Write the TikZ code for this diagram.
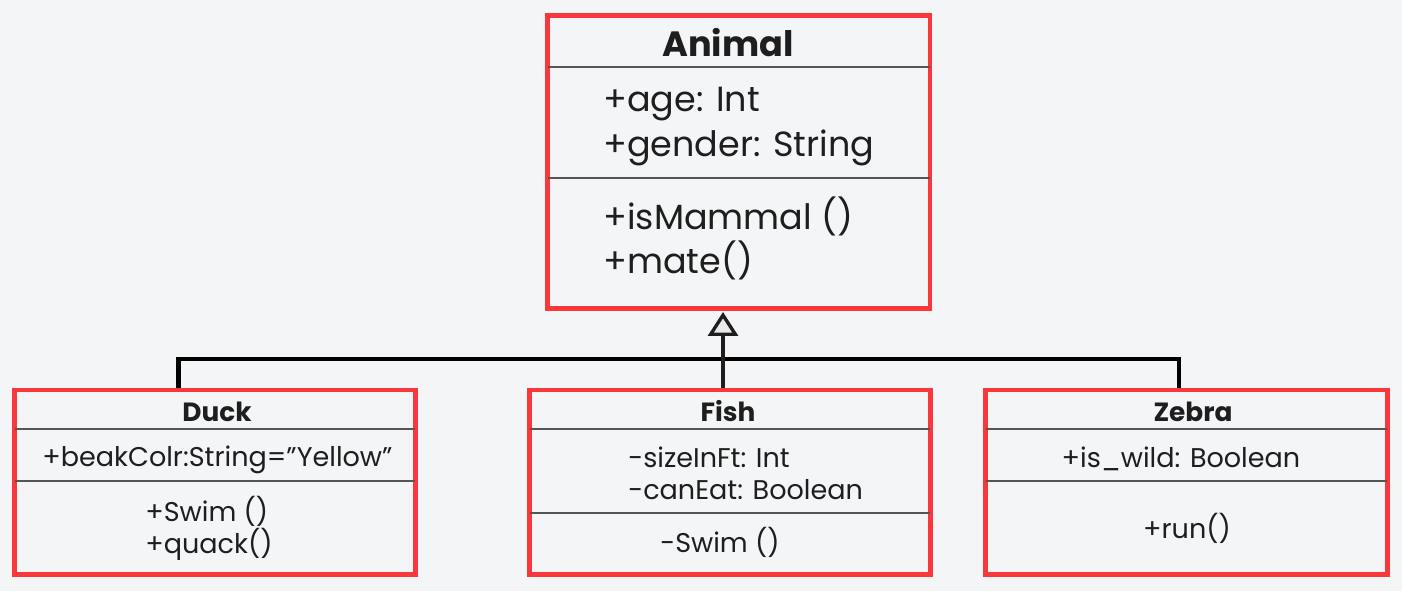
\documentclass[tikz,border=0pt]{standalone}
\usepackage{fontspec}
\setmainfont{Poppins}
\usetikzlibrary{arrows.meta, calc, positioning}

\definecolor{umlRed}{RGB}{250,56,60}
\definecolor{sepGray}{RGB}{85,85,85}
\definecolor{paper}{RGB}{244,245,247}
\definecolor{ink}{RGB}{30,30,30}
\definecolor{triFill}{RGB}{232,233,235}

\tikzset{
	classbox/.style = {draw = umlRed, line width = 2.8pt, inner sep = 0pt},
	sep/.style = {draw = sepGray, line width = 1.1pt, shorten <= 1.4pt, shorten >= 1.4pt},
	bigTitle/.style = {font = \fontsize{20}{24}\selectfont\bfseries, text = ink, anchor = base, inner sep = 0pt},
	bigMember/.style = {font = \fontsize{19.9}{24}\selectfont, text = ink, anchor = base west, inner sep = 0pt},
	smallTitle/.style = {font = \fontsize{15}{18}\selectfont\bfseries, text = ink, anchor = base, inner sep = 0pt},
	smallMember/.style = {font = \fontsize{15.4}{18}\selectfont, text = ink, anchor = base west, inner sep = 0pt},
	bus/.style = {draw = black, line width = 2.6pt},
	inherit/.style = {draw = ink, line width = 1.9pt, -{Triangle[length = 0.48cm, width = 0.6cm, fill = triFill]}},
}

\begin{document}
\begin{tikzpicture}[x = 0.02cm, y = -0.02cm]
		\useasboundingbox [fill = paper] (0, 0) rectangle (1402, 591);

		% class boxes
		\node [classbox, minimum width = 7.65cm, minimum height = 5.86cm] (animal) at (738.75, 162) {};
		\node [classbox, minimum width = 8.02cm, minimum height = 3.69cm] (duck) at (215, 482.25) {};
		\node [classbox, minimum width = 8.02cm, minimum height = 3.69cm] (fish) at (730, 482.25) {};
		\node [classbox, minimum width = 8.04cm, minimum height = 3.69cm] (zebra) at (1186.5, 482.25) {};

		\draw [sep] ([yshift = -1.07cm]animal.north west) -- ([yshift = -1.07cm]animal.north east);
		\draw [sep] ([yshift = -3.29cm]animal.north west) -- ([yshift = -3.29cm]animal.north east);
		\draw [sep] ([yshift = -0.82cm]duck.north west) -- ([yshift = -0.82cm]duck.north east);
		\draw [sep] ([yshift = -1.86cm]duck.north west) -- ([yshift = -1.86cm]duck.north east);
		\draw [sep] ([yshift = -0.82cm]fish.north west) -- ([yshift = -0.82cm]fish.north east);
		\draw [sep] ([yshift = -2.5cm]fish.north west) -- ([yshift = -2.5cm]fish.north east);
		\draw [sep] ([yshift = -0.82cm]zebra.north west) -- ([yshift = -0.82cm]zebra.north east);
		\draw [sep] ([yshift = -1.86cm]zebra.north west) -- ([yshift = -1.86cm]zebra.north east);

		% Animal
		\node [bigTitle] (animalName) at (728, 57) {Animal};
		\node [bigMember] (animalAge) at (603, 112) {+age: Int};
		\node [bigMember] (animalGender) at (603, 157) {+gender: String};
		\node [bigMember] (animalMammal) at (603, 230) {+isMammal ()};
		\node [bigMember] (animalMate) at (603, 273) {+mate()};

		% Duck
		\node [smallTitle] (duckName) at (217, 421) {Duck};
		\node [smallMember] (duckBeak) at (42, 466) {+beakColr:String=”Yellow”};
		\node [smallMember] (duckSwim) at (145, 521) {+Swim ()};
		\node [smallMember] (duckQuack) at (145, 553) {+quack()};

		% Fish
		\node [smallTitle] (fishName) at (728, 421) {Fish};
		\node [smallMember] (fishSize) at (628, 467) {-sizeInFt: Int};
		\node [smallMember] (fishEat) at (628, 499) {-canEat: Boolean};
		\node [smallMember] (fishSwim) at (660, 552) {-Swim ()};

		% Zebra
		\node [smallTitle] (zebraName) at (1193, 421) {Zebra};
		\node [smallMember, anchor = base] (zebraWild) at (1181, 467) {+is\_wild: Boolean};
		\node [smallMember, anchor = base] (zebraRun) at (1187, 538) {+run()};

		% generalisation
		\coordinate (duckTop) at (178.5, 388);
		\coordinate (zebraTop) at (1179, 388);
		\coordinate (busLeft) at (178.5, 359);
		\coordinate (busRight) at (1179, 359);
		\draw [bus] (duckTop) -- (busLeft) -- (busRight) -- (zebraTop);

		\coordinate (fishTop) at (723, 388);
		\coordinate (animalFoot) at (723, 312);
		\draw [inherit] (fishTop) -- (animalFoot);
	\end{tikzpicture}
\end{document}
